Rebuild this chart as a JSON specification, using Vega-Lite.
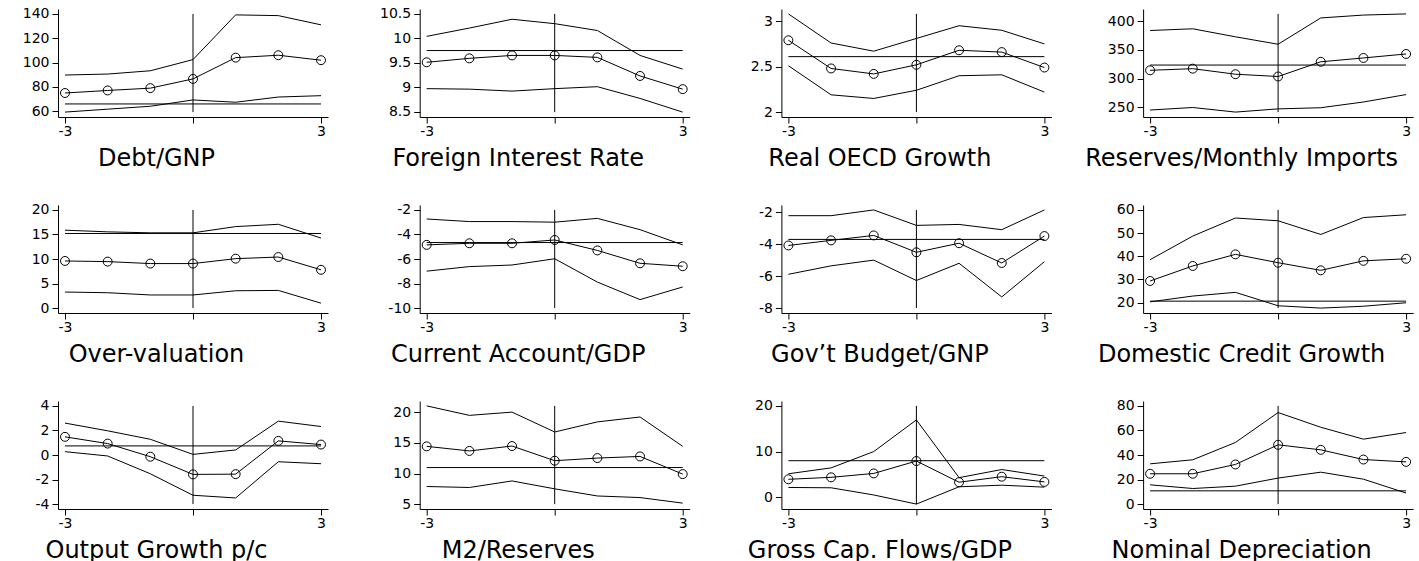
{
"$schema":"https://vega.github.io/schema/vega-lite/v6.json",
"padding":{"left":22,"top":6,"right":0,"bottom":0},
"datasets":{
"s":[
{"p":1,"t":-3,"upper":89.7,"mean":74.9,"lower":59.2},{"p":1,"t":-2,"upper":90.5,"mean":77.0,"lower":61.6},{"p":1,"t":-1,"upper":93.2,"mean":78.9,"lower":64.0},{"p":1,"t":0,"upper":102.4,"mean":86.5,"lower":69.2},{"p":1,"t":1,"upper":139.2,"mean":104.0,"lower":67.3},{"p":1,"t":2,"upper":138.6,"mean":106.0,"lower":71.6},{"p":1,"t":3,"upper":131.0,"mean":101.9,"lower":72.7},
{"p":2,"t":-3,"upper":10.04,"mean":9.51,"lower":8.97},{"p":2,"t":-2,"upper":10.21,"mean":9.59,"lower":8.96},{"p":2,"t":-1,"upper":10.39,"mean":9.65,"lower":8.92},{"p":2,"t":0,"upper":10.30,"mean":9.65,"lower":8.97},{"p":2,"t":1,"upper":10.16,"mean":9.61,"lower":9.01},{"p":2,"t":2,"upper":9.65,"mean":9.23,"lower":8.77},{"p":2,"t":3,"upper":9.37,"mean":8.96,"lower":8.49},
{"p":3,"t":-3,"upper":3.08,"mean":2.79,"lower":2.51},{"p":3,"t":-2,"upper":2.76,"mean":2.48,"lower":2.19},{"p":3,"t":-1,"upper":2.67,"mean":2.42,"lower":2.15},{"p":3,"t":0,"upper":2.81,"mean":2.52,"lower":2.24},{"p":3,"t":1,"upper":2.95,"mean":2.68,"lower":2.40},{"p":3,"t":2,"upper":2.90,"mean":2.66,"lower":2.41},{"p":3,"t":3,"upper":2.75,"mean":2.49,"lower":2.22},
{"p":4,"t":-3,"upper":384,"mean":314.4,"lower":245},{"p":4,"t":-2,"upper":387,"mean":317.3,"lower":249.4},{"p":4,"t":-1,"upper":373,"mean":307.6,"lower":241.4},{"p":4,"t":0,"upper":360,"mean":303.6,"lower":247},{"p":4,"t":1,"upper":406,"mean":329.3,"lower":249},{"p":4,"t":2,"upper":411,"mean":336,"lower":259},{"p":4,"t":3,"upper":413,"mean":343,"lower":272},
{"p":5,"t":-3,"upper":15.87,"mean":9.6,"lower":3.27},{"p":5,"t":-2,"upper":15.53,"mean":9.47,"lower":3.13},{"p":5,"t":-1,"upper":15.33,"mean":9.07,"lower":2.67},{"p":5,"t":0,"upper":15.33,"mean":9.07,"lower":2.67},{"p":5,"t":1,"upper":16.6,"mean":10.07,"lower":3.53},{"p":5,"t":2,"upper":17.07,"mean":10.4,"lower":3.6},{"p":5,"t":3,"upper":14.27,"mean":7.8,"lower":1.0},
{"p":6,"t":-3,"upper":-2.74,"mean":-4.85,"lower":-6.99},{"p":6,"t":-2,"upper":-2.95,"mean":-4.72,"lower":-6.62},{"p":6,"t":-1,"upper":-2.95,"mean":-4.72,"lower":-6.49},{"p":6,"t":0,"upper":-3.0,"mean":-4.45,"lower":-5.98},{"p":6,"t":1,"upper":-2.69,"mean":-5.3,"lower":-7.88},{"p":6,"t":2,"upper":-3.61,"mean":-6.35,"lower":-9.31},{"p":6,"t":3,"upper":-4.85,"mean":-6.59,"lower":-8.28},
{"p":7,"t":-3,"upper":-2.2,"mean":-4.07,"lower":-5.88},{"p":7,"t":-2,"upper":-2.2,"mean":-3.75,"lower":-5.35},{"p":7,"t":-1,"upper":-1.84,"mean":-3.44,"lower":-4.99},{"p":7,"t":0,"upper":-2.81,"mean":-4.5,"lower":-6.27},{"p":7,"t":1,"upper":-2.75,"mean":-3.93,"lower":-5.19},{"p":7,"t":2,"upper":-3.08,"mean":-5.17,"lower":-7.3},{"p":7,"t":3,"upper":-1.84,"mean":-3.48,"lower":-5.09},
{"p":8,"t":-3,"upper":38.5,"mean":29.3,"lower":20.3},{"p":8,"t":-2,"upper":48.7,"mean":35.8,"lower":22.8},{"p":8,"t":-1,"upper":56.5,"mean":40.8,"lower":24.4},{"p":8,"t":0,"upper":55.3,"mean":37.2,"lower":18.6},{"p":8,"t":1,"upper":49.4,"mean":33.9,"lower":17.6},{"p":8,"t":2,"upper":56.7,"mean":38.0,"lower":18.4},{"p":8,"t":3,"upper":57.9,"mean":38.9,"lower":19.9},
{"p":9,"t":-3,"upper":2.6,"mean":1.48,"lower":0.27},{"p":9,"t":-2,"upper":1.97,"mean":0.93,"lower":-0.08},{"p":9,"t":-1,"upper":1.28,"mean":-0.14,"lower":-1.53},{"p":9,"t":0,"upper":0.05,"mean":-1.58,"lower":-3.28},{"p":9,"t":1,"upper":0.41,"mean":-1.56,"lower":-3.5},{"p":9,"t":2,"upper":2.76,"mean":1.15,"lower":-0.55},{"p":9,"t":3,"upper":2.32,"mean":0.85,"lower":-0.71},
{"p":10,"t":-3,"upper":21.07,"mean":14.45,"lower":7.88},{"p":10,"t":-2,"upper":19.52,"mean":13.7,"lower":7.72},{"p":10,"t":-1,"upper":20.05,"mean":14.5,"lower":8.79},{"p":10,"t":0,"upper":16.8,"mean":12.1,"lower":7.5},{"p":10,"t":1,"upper":18.45,"mean":12.53,"lower":6.33},{"p":10,"t":2,"upper":19.25,"mean":12.8,"lower":6.07},{"p":10,"t":3,"upper":14.45,"mean":9.91,"lower":5.16},
{"p":11,"t":-3,"upper":5.14,"mean":3.93,"lower":2.14},{"p":11,"t":-2,"upper":6.43,"mean":4.36,"lower":2.07},{"p":11,"t":-1,"upper":10.0,"mean":5.21,"lower":0.5},{"p":11,"t":0,"upper":16.93,"mean":7.93,"lower":-1.5},{"p":11,"t":1,"upper":4.29,"mean":3.29,"lower":2.29},{"p":11,"t":2,"upper":6.07,"mean":4.5,"lower":2.64},{"p":11,"t":3,"upper":4.64,"mean":3.36,"lower":2.21},
{"p":12,"t":-3,"upper":32.8,"mean":24.7,"lower":15.7},{"p":12,"t":-2,"upper":36.1,"mean":24.7,"lower":12.7},{"p":12,"t":-1,"upper":50.2,"mean":32.3,"lower":14.6},{"p":12,"t":0,"upper":74.6,"mean":48.3,"lower":21.2},{"p":12,"t":1,"upper":62.6,"mean":44.2,"lower":26.0},{"p":12,"t":2,"upper":52.9,"mean":36.3,"lower":20.3},{"p":12,"t":3,"upper":58.3,"mean":34.4,"lower":9.0}
],
"tq":[
{"p":1,"v":65.9},{"p":2,"v":9.75},{"p":3,"v":2.61},{"p":4,"v":323.6},{"p":5,"v":15.2},{"p":6,"v":-4.66},{"p":7,"v":-3.69},{"p":8,"v":20.6},{"p":9,"v":0.74},{"p":10,"v":10.98},{"p":11,"v":8.0},{"p":12,"v":10.8}
]
},
"columns":4,
"bounds":"flush",
"spacing":{"row":88,"column":91.7},
"concat":[
{"width":270,"height":108,"resolve":{"axis":{"x":"independent","y":"independent"}},"layer":[
{"data":{"name":"s"},"transform":[{"filter":"datum.p==1"},{"fold":["upper","mean","lower"],"as":["k","v"]}],"mark":"line","encoding":{"x":{"field":"t","type":"quantitative","scale":{"domain":[-3.164,3.164]},"axis":{"values":[-3,0,3],"labelExpr":"datum.value==0?'':''+datum.value","labelOverlap":false,"title":"Debt/GNP"}},"y":{"field":"v","type":"quantitative","scale":{"domain":[55.16,144.04]},"axis":{"values":[60,80,100,120,140],"labelExpr":"''+datum.value","labelOverlap":false,"title":null}},"detail":{"field":"k"}}},
{"data":{"name":"tq"},"transform":[{"filter":"datum.p==1"}],"mark":"rule","encoding":{"x":{"datum":-3,"type":"quantitative","scale":{"domain":[-3.164,3.164]},"axis":null},"x2":{"datum":3},"y":{"field":"v","type":"quantitative","scale":{"domain":[55.16,144.04]},"axis":null}}},
{"data":{"name":"tq"},"transform":[{"filter":"datum.p==1"}],"mark":"rule","encoding":{"x":{"datum":0,"type":"quantitative","scale":{"domain":[-3.164,3.164]},"axis":null},"y":{"datum":140,"type":"quantitative","scale":{"domain":[55.16,144.04]},"axis":null},"y2":{"datum":59.2}}},
{"data":{"name":"s"},"transform":[{"filter":"datum.p==1"}],"mark":"point","encoding":{"x":{"field":"t","type":"quantitative","scale":{"domain":[-3.164,3.164]},"axis":null},"y":{"field":"mean","type":"quantitative","scale":{"domain":[55.16,144.04]},"axis":null}}}
]},
{"width":270,"height":108,"resolve":{"axis":{"x":"independent","y":"independent"}},"layer":[
{"data":{"name":"s"},"transform":[{"filter":"datum.p==2"},{"fold":["upper","mean","lower"],"as":["k","v"]}],"mark":"line","encoding":{"x":{"field":"t","type":"quantitative","scale":{"domain":[-3.164,3.164]},"axis":{"values":[-3,0,3],"labelExpr":"datum.value==0?'':''+datum.value","labelOverlap":false,"title":"Foreign Interest Rate"}},"y":{"field":"v","type":"quantitative","scale":{"domain":[8.39,10.6]},"axis":{"values":[8.5,9,9.5,10,10.5],"labelExpr":"''+datum.value","labelOverlap":false,"title":null}},"detail":{"field":"k"}}},
{"data":{"name":"tq"},"transform":[{"filter":"datum.p==2"}],"mark":"rule","encoding":{"x":{"datum":-3,"type":"quantitative","scale":{"domain":[-3.164,3.164]},"axis":null},"x2":{"datum":3},"y":{"field":"v","type":"quantitative","scale":{"domain":[8.39,10.6]},"axis":null}}},
{"data":{"name":"tq"},"transform":[{"filter":"datum.p==2"}],"mark":"rule","encoding":{"x":{"datum":0,"type":"quantitative","scale":{"domain":[-3.164,3.164]},"axis":null},"y":{"datum":10.5,"type":"quantitative","scale":{"domain":[8.39,10.6]},"axis":null},"y2":{"datum":8.49}}},
{"data":{"name":"s"},"transform":[{"filter":"datum.p==2"}],"mark":"point","encoding":{"x":{"field":"t","type":"quantitative","scale":{"domain":[-3.164,3.164]},"axis":null},"y":{"field":"mean","type":"quantitative","scale":{"domain":[8.39,10.6]},"axis":null}}}
]},
{"width":270,"height":108,"resolve":{"axis":{"x":"independent","y":"independent"}},"layer":[
{"data":{"name":"s"},"transform":[{"filter":"datum.p==3"},{"fold":["upper","mean","lower"],"as":["k","v"]}],"mark":"line","encoding":{"x":{"field":"t","type":"quantitative","scale":{"domain":[-3.164,3.164]},"axis":{"values":[-3,0,3],"labelExpr":"datum.value==0?'':''+datum.value","labelOverlap":false,"title":"Real OECD Growth"}},"y":{"field":"v","type":"quantitative","scale":{"domain":[1.946,3.134]},"axis":{"values":[2,2.5,3],"labelExpr":"''+datum.value","labelOverlap":false,"title":null}},"detail":{"field":"k"}}},
{"data":{"name":"tq"},"transform":[{"filter":"datum.p==3"}],"mark":"rule","encoding":{"x":{"datum":-3,"type":"quantitative","scale":{"domain":[-3.164,3.164]},"axis":null},"x2":{"datum":3},"y":{"field":"v","type":"quantitative","scale":{"domain":[1.946,3.134]},"axis":null}}},
{"data":{"name":"tq"},"transform":[{"filter":"datum.p==3"}],"mark":"rule","encoding":{"x":{"datum":0,"type":"quantitative","scale":{"domain":[-3.164,3.164]},"axis":null},"y":{"datum":3.08,"type":"quantitative","scale":{"domain":[1.946,3.134]},"axis":null},"y2":{"datum":2}}},
{"data":{"name":"s"},"transform":[{"filter":"datum.p==3"}],"mark":"point","encoding":{"x":{"field":"t","type":"quantitative","scale":{"domain":[-3.164,3.164]},"axis":null},"y":{"field":"mean","type":"quantitative","scale":{"domain":[1.946,3.134]},"axis":null}}}
]},
{"width":270,"height":108,"resolve":{"axis":{"x":"independent","y":"independent"}},"layer":[
{"data":{"name":"s"},"transform":[{"filter":"datum.p==4"},{"fold":["upper","mean","lower"],"as":["k","v"]}],"mark":"line","encoding":{"x":{"field":"t","type":"quantitative","scale":{"domain":[-3.164,3.164]},"axis":{"values":[-3,0,3],"labelExpr":"datum.value==0?'':''+datum.value","labelOverlap":false,"title":"Reserves/Monthly Imports"}},"y":{"field":"v","type":"quantitative","scale":{"domain":[232.8,421.6]},"axis":{"values":[250,300,350,400],"labelExpr":"''+datum.value","labelOverlap":false,"title":null}},"detail":{"field":"k"}}},
{"data":{"name":"tq"},"transform":[{"filter":"datum.p==4"}],"mark":"rule","encoding":{"x":{"datum":-3,"type":"quantitative","scale":{"domain":[-3.164,3.164]},"axis":null},"x2":{"datum":3},"y":{"field":"v","type":"quantitative","scale":{"domain":[232.8,421.6]},"axis":null}}},
{"data":{"name":"tq"},"transform":[{"filter":"datum.p==4"}],"mark":"rule","encoding":{"x":{"datum":0,"type":"quantitative","scale":{"domain":[-3.164,3.164]},"axis":null},"y":{"datum":413,"type":"quantitative","scale":{"domain":[232.8,421.6]},"axis":null},"y2":{"datum":241.4}}},
{"data":{"name":"s"},"transform":[{"filter":"datum.p==4"}],"mark":"point","encoding":{"x":{"field":"t","type":"quantitative","scale":{"domain":[-3.164,3.164]},"axis":null},"y":{"field":"mean","type":"quantitative","scale":{"domain":[232.8,421.6]},"axis":null}}}
]},
{"width":270,"height":108,"resolve":{"axis":{"x":"independent","y":"independent"}},"layer":[
{"data":{"name":"s"},"transform":[{"filter":"datum.p==5"},{"fold":["upper","mean","lower"],"as":["k","v"]}],"mark":"line","encoding":{"x":{"field":"t","type":"quantitative","scale":{"domain":[-3.164,3.164]},"axis":{"values":[-3,0,3],"labelExpr":"datum.value==0?'':''+datum.value","labelOverlap":false,"title":"Over-valuation"}},"y":{"field":"v","type":"quantitative","scale":{"domain":[-1,21]},"axis":{"values":[0,5,10,15,20],"labelExpr":"''+datum.value","labelOverlap":false,"title":null}},"detail":{"field":"k"}}},
{"data":{"name":"tq"},"transform":[{"filter":"datum.p==5"}],"mark":"rule","encoding":{"x":{"datum":-3,"type":"quantitative","scale":{"domain":[-3.164,3.164]},"axis":null},"x2":{"datum":3},"y":{"field":"v","type":"quantitative","scale":{"domain":[-1,21]},"axis":null}}},
{"data":{"name":"tq"},"transform":[{"filter":"datum.p==5"}],"mark":"rule","encoding":{"x":{"datum":0,"type":"quantitative","scale":{"domain":[-3.164,3.164]},"axis":null},"y":{"datum":20,"type":"quantitative","scale":{"domain":[-1,21]},"axis":null},"y2":{"datum":0}}},
{"data":{"name":"s"},"transform":[{"filter":"datum.p==5"}],"mark":"point","encoding":{"x":{"field":"t","type":"quantitative","scale":{"domain":[-3.164,3.164]},"axis":null},"y":{"field":"mean","type":"quantitative","scale":{"domain":[-1,21]},"axis":null}}}
]},
{"width":270,"height":108,"resolve":{"axis":{"x":"independent","y":"independent"}},"layer":[
{"data":{"name":"s"},"transform":[{"filter":"datum.p==6"},{"fold":["upper","mean","lower"],"as":["k","v"]}],"mark":"line","encoding":{"x":{"field":"t","type":"quantitative","scale":{"domain":[-3.164,3.164]},"axis":{"values":[-3,0,3],"labelExpr":"datum.value==0?'':''+datum.value","labelOverlap":false,"title":"Current Account/GDP"}},"y":{"field":"v","type":"quantitative","scale":{"domain":[-10.4,-1.6]},"axis":{"values":[-10,-8,-6,-4,-2],"labelExpr":"''+datum.value","labelOverlap":false,"title":null}},"detail":{"field":"k"}}},
{"data":{"name":"tq"},"transform":[{"filter":"datum.p==6"}],"mark":"rule","encoding":{"x":{"datum":-3,"type":"quantitative","scale":{"domain":[-3.164,3.164]},"axis":null},"x2":{"datum":3},"y":{"field":"v","type":"quantitative","scale":{"domain":[-10.4,-1.6]},"axis":null}}},
{"data":{"name":"tq"},"transform":[{"filter":"datum.p==6"}],"mark":"rule","encoding":{"x":{"datum":0,"type":"quantitative","scale":{"domain":[-3.164,3.164]},"axis":null},"y":{"datum":-2,"type":"quantitative","scale":{"domain":[-10.4,-1.6]},"axis":null},"y2":{"datum":-10}}},
{"data":{"name":"s"},"transform":[{"filter":"datum.p==6"}],"mark":"point","encoding":{"x":{"field":"t","type":"quantitative","scale":{"domain":[-3.164,3.164]},"axis":null},"y":{"field":"mean","type":"quantitative","scale":{"domain":[-10.4,-1.6]},"axis":null}}}
]},
{"width":270,"height":108,"resolve":{"axis":{"x":"independent","y":"independent"}},"layer":[
{"data":{"name":"s"},"transform":[{"filter":"datum.p==7"},{"fold":["upper","mean","lower"],"as":["k","v"]}],"mark":"line","encoding":{"x":{"field":"t","type":"quantitative","scale":{"domain":[-3.164,3.164]},"axis":{"values":[-3,0,3],"labelExpr":"datum.value==0?'':''+datum.value","labelOverlap":false,"title":"Gov’t Budget/GNP"}},"y":{"field":"v","type":"quantitative","scale":{"domain":[-8.31,-1.53]},"axis":{"values":[-8,-6,-4,-2],"labelExpr":"''+datum.value","labelOverlap":false,"title":null}},"detail":{"field":"k"}}},
{"data":{"name":"tq"},"transform":[{"filter":"datum.p==7"}],"mark":"rule","encoding":{"x":{"datum":-3,"type":"quantitative","scale":{"domain":[-3.164,3.164]},"axis":null},"x2":{"datum":3},"y":{"field":"v","type":"quantitative","scale":{"domain":[-8.31,-1.53]},"axis":null}}},
{"data":{"name":"tq"},"transform":[{"filter":"datum.p==7"}],"mark":"rule","encoding":{"x":{"datum":0,"type":"quantitative","scale":{"domain":[-3.164,3.164]},"axis":null},"y":{"datum":-1.84,"type":"quantitative","scale":{"domain":[-8.31,-1.53]},"axis":null},"y2":{"datum":-8}}},
{"data":{"name":"s"},"transform":[{"filter":"datum.p==7"}],"mark":"point","encoding":{"x":{"field":"t","type":"quantitative","scale":{"domain":[-3.164,3.164]},"axis":null},"y":{"field":"mean","type":"quantitative","scale":{"domain":[-8.31,-1.53]},"axis":null}}}
]},
{"width":270,"height":108,"resolve":{"axis":{"x":"independent","y":"independent"}},"layer":[
{"data":{"name":"s"},"transform":[{"filter":"datum.p==8"},{"fold":["upper","mean","lower"],"as":["k","v"]}],"mark":"line","encoding":{"x":{"field":"t","type":"quantitative","scale":{"domain":[-3.164,3.164]},"axis":{"values":[-3,0,3],"labelExpr":"datum.value==0?'':''+datum.value","labelOverlap":false,"title":"Domestic Credit Growth"}},"y":{"field":"v","type":"quantitative","scale":{"domain":[15.48,62.12]},"axis":{"values":[20,30,40,50,60],"labelExpr":"''+datum.value","labelOverlap":false,"title":null}},"detail":{"field":"k"}}},
{"data":{"name":"tq"},"transform":[{"filter":"datum.p==8"}],"mark":"rule","encoding":{"x":{"datum":-3,"type":"quantitative","scale":{"domain":[-3.164,3.164]},"axis":null},"x2":{"datum":3},"y":{"field":"v","type":"quantitative","scale":{"domain":[15.48,62.12]},"axis":null}}},
{"data":{"name":"tq"},"transform":[{"filter":"datum.p==8"}],"mark":"rule","encoding":{"x":{"datum":0,"type":"quantitative","scale":{"domain":[-3.164,3.164]},"axis":null},"y":{"datum":60,"type":"quantitative","scale":{"domain":[15.48,62.12]},"axis":null},"y2":{"datum":17.6}}},
{"data":{"name":"s"},"transform":[{"filter":"datum.p==8"}],"mark":"point","encoding":{"x":{"field":"t","type":"quantitative","scale":{"domain":[-3.164,3.164]},"axis":null},"y":{"field":"mean","type":"quantitative","scale":{"domain":[15.48,62.12]},"axis":null}}}
]},
{"width":270,"height":108,"resolve":{"axis":{"x":"independent","y":"independent"}},"layer":[
{"data":{"name":"s"},"transform":[{"filter":"datum.p==9"},{"fold":["upper","mean","lower"],"as":["k","v"]}],"mark":"line","encoding":{"x":{"field":"t","type":"quantitative","scale":{"domain":[-3.164,3.164]},"axis":{"values":[-3,0,3],"labelExpr":"datum.value==0?'':''+datum.value","labelOverlap":false,"title":"Output Growth p/c"}},"y":{"field":"v","type":"quantitative","scale":{"domain":[-4.4,4.4]},"axis":{"values":[-4,-2,0,2,4],"labelExpr":"''+datum.value","labelOverlap":false,"title":null}},"detail":{"field":"k"}}},
{"data":{"name":"tq"},"transform":[{"filter":"datum.p==9"}],"mark":"rule","encoding":{"x":{"datum":-3,"type":"quantitative","scale":{"domain":[-3.164,3.164]},"axis":null},"x2":{"datum":3},"y":{"field":"v","type":"quantitative","scale":{"domain":[-4.4,4.4]},"axis":null}}},
{"data":{"name":"tq"},"transform":[{"filter":"datum.p==9"}],"mark":"rule","encoding":{"x":{"datum":0,"type":"quantitative","scale":{"domain":[-3.164,3.164]},"axis":null},"y":{"datum":4,"type":"quantitative","scale":{"domain":[-4.4,4.4]},"axis":null},"y2":{"datum":-4}}},
{"data":{"name":"s"},"transform":[{"filter":"datum.p==9"}],"mark":"point","encoding":{"x":{"field":"t","type":"quantitative","scale":{"domain":[-3.164,3.164]},"axis":null},"y":{"field":"mean","type":"quantitative","scale":{"domain":[-4.4,4.4]},"axis":null}}}
]},
{"width":270,"height":108,"resolve":{"axis":{"x":"independent","y":"independent"}},"layer":[
{"data":{"name":"s"},"transform":[{"filter":"datum.p==10"},{"fold":["upper","mean","lower"],"as":["k","v"]}],"mark":"line","encoding":{"x":{"field":"t","type":"quantitative","scale":{"domain":[-3.164,3.164]},"axis":{"values":[-3,0,3],"labelExpr":"datum.value==0?'':''+datum.value","labelOverlap":false,"title":"M2/Reserves"}},"y":{"field":"v","type":"quantitative","scale":{"domain":[4.2,21.87]},"axis":{"values":[5,10,15,20],"labelExpr":"''+datum.value","labelOverlap":false,"title":null}},"detail":{"field":"k"}}},
{"data":{"name":"tq"},"transform":[{"filter":"datum.p==10"}],"mark":"rule","encoding":{"x":{"datum":-3,"type":"quantitative","scale":{"domain":[-3.164,3.164]},"axis":null},"x2":{"datum":3},"y":{"field":"v","type":"quantitative","scale":{"domain":[4.2,21.87]},"axis":null}}},
{"data":{"name":"tq"},"transform":[{"filter":"datum.p==10"}],"mark":"rule","encoding":{"x":{"datum":0,"type":"quantitative","scale":{"domain":[-3.164,3.164]},"axis":null},"y":{"datum":21.07,"type":"quantitative","scale":{"domain":[4.2,21.87]},"axis":null},"y2":{"datum":5}}},
{"data":{"name":"s"},"transform":[{"filter":"datum.p==10"}],"mark":"point","encoding":{"x":{"field":"t","type":"quantitative","scale":{"domain":[-3.164,3.164]},"axis":null},"y":{"field":"mean","type":"quantitative","scale":{"domain":[4.2,21.87]},"axis":null}}}
]},
{"width":270,"height":108,"resolve":{"axis":{"x":"independent","y":"independent"}},"layer":[
{"data":{"name":"s"},"transform":[{"filter":"datum.p==11"},{"fold":["upper","mean","lower"],"as":["k","v"]}],"mark":"line","encoding":{"x":{"field":"t","type":"quantitative","scale":{"domain":[-3.164,3.164]},"axis":{"values":[-3,0,3],"labelExpr":"datum.value==0?'':''+datum.value","labelOverlap":false,"title":"Gross Cap. Flows/GDP"}},"y":{"field":"v","type":"quantitative","scale":{"domain":[-2.575,21.075]},"axis":{"values":[0,10,20],"labelExpr":"''+datum.value","labelOverlap":false,"title":null}},"detail":{"field":"k"}}},
{"data":{"name":"tq"},"transform":[{"filter":"datum.p==11"}],"mark":"rule","encoding":{"x":{"datum":-3,"type":"quantitative","scale":{"domain":[-3.164,3.164]},"axis":null},"x2":{"datum":3},"y":{"field":"v","type":"quantitative","scale":{"domain":[-2.575,21.075]},"axis":null}}},
{"data":{"name":"tq"},"transform":[{"filter":"datum.p==11"}],"mark":"rule","encoding":{"x":{"datum":0,"type":"quantitative","scale":{"domain":[-3.164,3.164]},"axis":null},"y":{"datum":20,"type":"quantitative","scale":{"domain":[-2.575,21.075]},"axis":null},"y2":{"datum":-1.5}}},
{"data":{"name":"s"},"transform":[{"filter":"datum.p==11"}],"mark":"point","encoding":{"x":{"field":"t","type":"quantitative","scale":{"domain":[-3.164,3.164]},"axis":null},"y":{"field":"mean","type":"quantitative","scale":{"domain":[-2.575,21.075]},"axis":null}}}
]},
{"width":270,"height":108,"resolve":{"axis":{"x":"independent","y":"independent"}},"layer":[
{"data":{"name":"s"},"transform":[{"filter":"datum.p==12"},{"fold":["upper","mean","lower"],"as":["k","v"]}],"mark":"line","encoding":{"x":{"field":"t","type":"quantitative","scale":{"domain":[-3.164,3.164]},"axis":{"values":[-3,0,3],"labelExpr":"datum.value==0?'':''+datum.value","labelOverlap":false,"title":"Nominal Depreciation"}},"y":{"field":"v","type":"quantitative","scale":{"domain":[-4,84]},"axis":{"values":[0,20,40,60,80],"labelExpr":"''+datum.value","labelOverlap":false,"title":null}},"detail":{"field":"k"}}},
{"data":{"name":"tq"},"transform":[{"filter":"datum.p==12"}],"mark":"rule","encoding":{"x":{"datum":-3,"type":"quantitative","scale":{"domain":[-3.164,3.164]},"axis":null},"x2":{"datum":3},"y":{"field":"v","type":"quantitative","scale":{"domain":[-4,84]},"axis":null}}},
{"data":{"name":"tq"},"transform":[{"filter":"datum.p==12"}],"mark":"rule","encoding":{"x":{"datum":0,"type":"quantitative","scale":{"domain":[-3.164,3.164]},"axis":null},"y":{"datum":80,"type":"quantitative","scale":{"domain":[-4,84]},"axis":null},"y2":{"datum":0}}},
{"data":{"name":"s"},"transform":[{"filter":"datum.p==12"}],"mark":"point","encoding":{"x":{"field":"t","type":"quantitative","scale":{"domain":[-3.164,3.164]},"axis":null},"y":{"field":"mean","type":"quantitative","scale":{"domain":[-4,84]},"axis":null}}}
]}
],
"config":{
"font":"DejaVu Sans",
"view":{"stroke":null},
"axis":{"grid":false,"domainColor":"black","tickColor":"black","labelColor":"black","titleColor":"black","labelFont":"DejaVu Sans","titleFont":"DejaVu Sans","labelFontSize":14,"tickSize":6,"domainWidth":1,"tickWidth":1,"labelPadding":3,"titleFontWeight":"normal","titleFontSize":24,"labelFlush":false},
"axisX":{"labelPadding":1,"titleX":98,"titleY":41,"titleBaseline":"middle","titleAlign":"center"},
"line":{"color":"black","strokeWidth":1},
"rule":{"color":"black","strokeWidth":1},
"point":{"shape":"circle","filled":false,"size":80,"color":"black","strokeWidth":1,"opacity":1}
}
}
